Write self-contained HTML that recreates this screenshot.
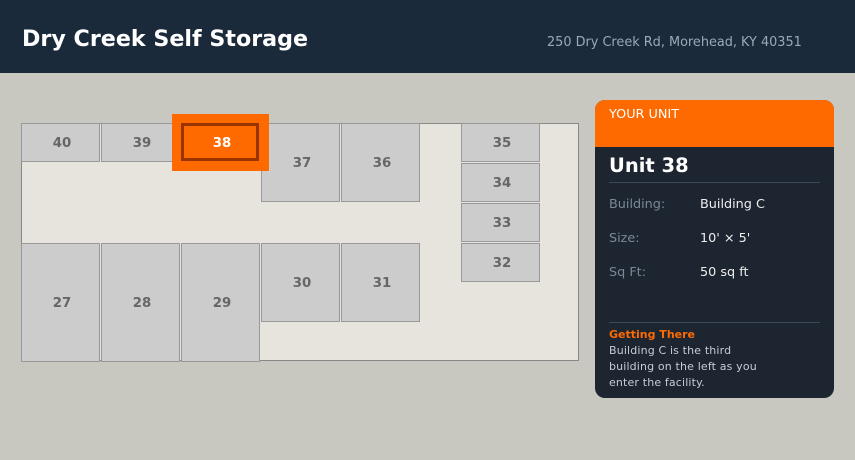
<!DOCTYPE html>
<html><head><meta charset="utf-8"><style>
html,body{margin:0;padding:0;width:855px;height:460px;overflow:hidden;background:#c8c8c0;font-family:"DejaVu Sans","Liberation Sans",sans-serif;}
</style></head><body>
<svg width="855" height="460" xmlns="http://www.w3.org/2000/svg" font-family="DejaVu Sans, Liberation Sans, sans-serif">
<rect x="0" y="0" width="855" height="460" fill="#c8c8c0"/>
<rect x="0" y="0" width="855" height="73" fill="#1b2a3a"/>
<text x="22" y="46" fill="#fff" font-size="22.2" font-weight="bold">Dry Creek Self Storage</text>
<text x="547" y="46" fill="#9aa8b8" font-size="12.85">250 Dry Creek Rd, Morehead, KY 40351</text>

<rect x="21.5" y="123.5" width="557" height="237" fill="#e7e3dd" stroke="#888" stroke-width="1"/>
<g fill="#cccccc" stroke="#999" stroke-width="1">
<rect x="21.5" y="123.5" width="78" height="38"/>
<rect x="101.5" y="123.5" width="78" height="38"/>
<rect x="261.5" y="123.5" width="78" height="78"/>
<rect x="341.5" y="123.5" width="78" height="78"/>
<rect x="461.5" y="123.5" width="78" height="38"/>
<rect x="461.5" y="163.5" width="78" height="38"/>
<rect x="461.5" y="203.5" width="78" height="38"/>
<rect x="461.5" y="243.5" width="78" height="38"/>
<rect x="21.5" y="243.5" width="78" height="118"/>
<rect x="101.5" y="243.5" width="78" height="118"/>
<rect x="181.5" y="243.5" width="78" height="118"/>
<rect x="261.5" y="243.5" width="78" height="78"/>
<rect x="341.5" y="243.5" width="78" height="78"/>
</g>
<rect x="172" y="114" width="97" height="57" fill="#ff6a00"/>
<rect x="182.5" y="124.5" width="75" height="35" fill="#ff6a00" stroke="#993300" stroke-width="3"/>
<g font-size="13.3" font-weight="bold" fill="#666" text-anchor="middle">
<text x="62" y="147">40</text>
<text x="142" y="147">39</text>
<text x="222" y="147" fill="#fff">38</text>
<text x="302" y="167">37</text>
<text x="382" y="167">36</text>
<text x="502" y="147">35</text>
<text x="502" y="187">34</text>
<text x="502" y="227">33</text>
<text x="502" y="267">32</text>
<text x="62" y="307">27</text>
<text x="142" y="307">28</text>
<text x="222" y="307">29</text>
<text x="302" y="287">30</text>
<text x="382" y="287">31</text>
</g>

<clipPath id="c"><rect x="595" y="100" width="239" height="298" rx="10"/></clipPath>
<g clip-path="url(#c)">
<rect x="595" y="100" width="239" height="298" fill="#1c2530"/>
<rect x="595" y="100" width="239" height="47" fill="#ff6a00"/>
</g>
<text x="609" y="118" fill="#fff" font-size="12.8">YOUR UNIT</text>
<text x="609" y="172" fill="#fff" font-size="19.5" font-weight="bold">Unit 38</text>
<rect x="609" y="182" width="211" height="1" fill="#3a4858"/>
<g font-size="12.8">
<text x="609" y="208" fill="#7a8898">Building:</text>
<text x="700" y="208" fill="#eee">Building C</text>
<text x="609" y="242" fill="#7a8898">Size:</text>
<text x="700" y="242" fill="#eee">10' × 5'</text>
<text x="609" y="276" fill="#7a8898">Sq Ft:</text>
<text x="700" y="276" fill="#eee">50 sq ft</text>
</g>
<rect x="609" y="322" width="211" height="1" fill="#3a4858"/>
<text x="609" y="338" fill="#ff6a00" font-size="11" font-weight="bold">Getting There</text>
<g font-size="11" fill="#c8ccd2" letter-spacing="0.15">
<text x="609" y="354">Building C is the third</text>
<text x="609" y="370">building on the left as you</text>
<text x="609" y="386">enter the facility.</text>
</g>
</svg>
</body></html>
